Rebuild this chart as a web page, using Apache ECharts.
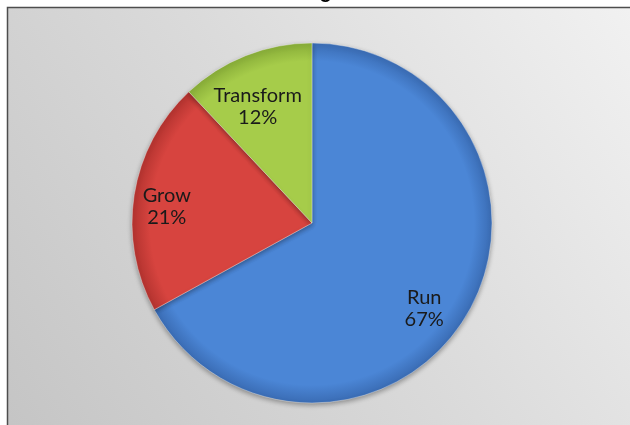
<!DOCTYPE html>
<html>
<head>
<meta charset="utf-8">
<style>
  html, body { margin: 0; padding: 0; background: #ffffff; }
  #chart { width: 630px; height: 425px; }
</style>
<script src="https://cdn.jsdelivr.net/npm/echarts@6/dist/echarts.min.js"></script>
</head>
<body>
<div id="chart"></div>
<script>
// Budget split across the three investment categories
const categories = ['Run', 'Grow', 'Transform'];
const shares = [67, 21, 12];
const sliceColors = [
  ['#4b86d6', '#3a6cb4'],
  ['#d7443f', '#b3332f'],
  ['#a6cc4a', '#88ad38']
];

const pieCenter = [312, 223];
const pieRadius = 180;

const chart = echarts.init(document.getElementById('chart'), null, { renderer: 'canvas' });

// Shading is anchored on the whole disc so every slice darkens toward the rim
const slices = categories.map((name, i) => ({
  name,
  value: shares[i],
  itemStyle: {
    color: {
      type: 'radial', x: pieCenter[0], y: pieCenter[1], r: pieRadius, global: true,
      colorStops: [
        { offset: 0, color: sliceColors[i][0] },
        { offset: 0.9, color: sliceColors[i][0] },
        { offset: 1, color: sliceColors[i][1] }
      ]
    }
  }
}));

// Small nudges of the in-slice labels, per category
const labelNudge = { Run: [-10, 13], Grow: [-5, 6], Transform: [-2, 16] };

const labelSlices = categories.map((name, i) => ({
  name,
  value: shares[i],
  label: { offset: labelNudge[name] }
}));

chart.setOption({
  animation: false,
  backgroundColor: '#ffffff',
  title: {
    text: 'Budget',
    left: 'center',
    top: -23,
    textStyle: { fontFamily: 'Liberation Sans', fontWeight: 'bold', fontSize: 20, color: '#000000' }
  },
  graphic: [{
    type: 'rect',
    z: -10,
    shape: { x: 7.5, y: 7.5, width: 640, height: 440 },
    style: {
      fill: {
        type: 'linear', x: 0, y: 1, x2: 1, y2: 0,
        colorStops: [
          { offset: 0, color: '#c4c4c4' },
          { offset: 0.5, color: '#dadada' },
          { offset: 1, color: '#f2f2f2' }
        ]
      },
      stroke: '#4d4d4d',
      lineWidth: 1.5
    }
  }],
  series: [
    {
      type: 'pie',
      center: pieCenter,
      radius: [0, pieRadius],
      startAngle: 90,
      clockwise: true,
      silent: true,
      label: { show: false },
      labelLine: { show: false },
      itemStyle: {
        borderColor: 'rgba(255,255,255,0.35)',
        borderWidth: 1,
        shadowColor: 'rgba(0,0,0,0.35)',
        shadowBlur: 5,
        shadowOffsetY: 2
      },
      data: slices
    },
    {
      type: 'pie',
      center: pieCenter,
      radius: [98, pieRadius],
      startAngle: 90,
      clockwise: true,
      silent: true,
      itemStyle: { color: 'transparent' },
      labelLine: { show: false },
      label: {
        show: true,
        position: 'inside',
        formatter: '{b}\n{d}%',
        fontFamily: 'Lato',
        fontSize: 20,
        lineHeight: 22,
        color: '#1a1a1a',
        align: 'center'
      },
      data: labelSlices
    }
  ]
});
</script>
</body>
</html>
